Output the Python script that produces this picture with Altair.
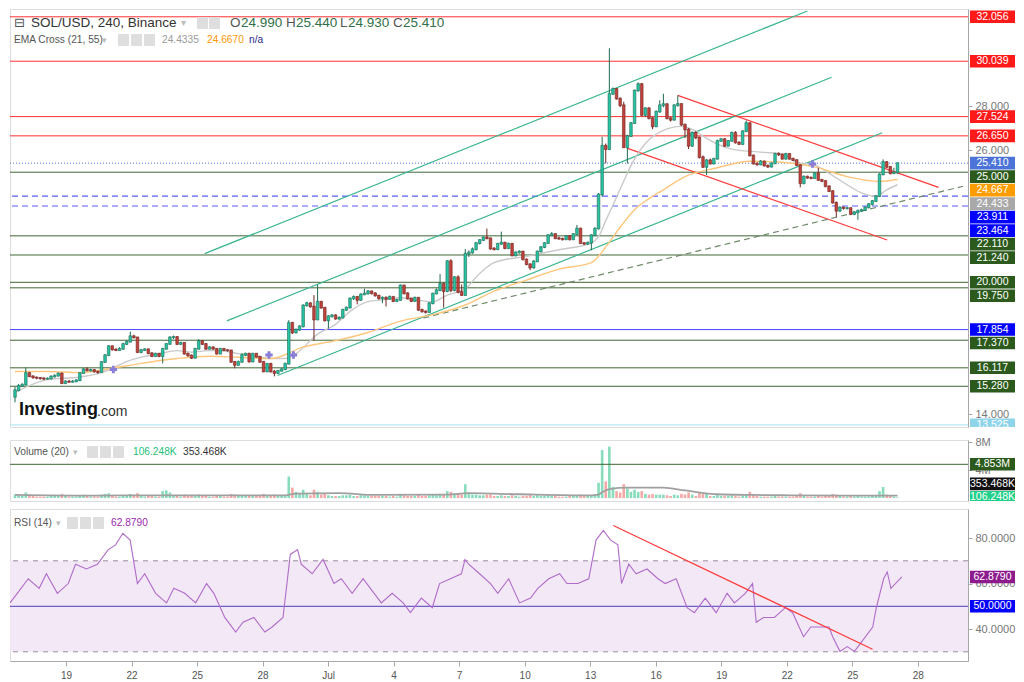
import altair as alt
import pandas as pd

# ---------------- data ----------------
opens = [14.80,15.10,15.30,15.35,15.88,15.73,15.68,15.66,15.64,15.62,
 15.63,15.72,15.76,15.86,15.42,15.50,15.48,15.50,15.55,15.88,
 16.05,16.00,16.02,15.95,15.92,16.38,16.69,17.10,16.95,16.92,
 16.98,17.20,17.30,17.55,17.50,16.83,16.92,16.96,16.78,16.65,
 16.76,16.65,16.98,17.20,17.50,17.52,17.20,17.25,16.76,16.68,
 16.57,16.98,17.33,17.20,16.98,17.05,16.98,16.76,16.98,16.92,
 16.91,16.39,16.25,16.39,16.70,16.76,16.40,16.76,16.62,16.39,
 15.95,16.30,15.95,15.88,15.98,16.05,16.30,18.16,17.72,17.85,
 18.00,18.95,19.05,18.90,18.31,19.12,18.85,18.27,18.46,18.50,
 18.35,18.40,18.75,18.85,19.27,19.34,19.20,19.45,19.49,19.59,
 19.50,19.40,19.27,19.30,19.25,19.34,19.15,19.20,19.86,19.50,
 19.27,19.15,19.30,18.75,18.68,18.65,19.05,19.49,19.64,19.93,
 19.60,20.96,19.64,20.23,19.56,19.42,21.30,21.35,21.50,21.78,
 21.92,22.04,22.00,21.53,21.50,21.75,21.80,21.55,21.75,21.22,
 21.36,21.40,21.04,20.82,20.67,20.95,21.40,21.60,21.78,22.14,
 22.19,22.00,21.98,21.95,22.10,21.95,22.19,22.44,21.78,21.75,
 21.80,22.14,22.44,23.99,26.20,26.05,28.56,28.78,28.34,28.04,
 26.13,26.64,27.23,28.71,29.00,27.60,27.90,27.45,27.08,27.75,
 28.04,28.09,27.45,27.38,28.04,28.10,27.16,26.94,26.20,26.79,
 26.57,25.68,25.24,25.54,25.39,25.61,26.42,26.50,26.20,26.42,
 26.79,26.35,26.28,26.86,27.23,25.76,25.39,25.35,25.49,25.30,
 25.25,25.40,25.83,25.80,25.61,25.83,25.61,25.55,25.32,24.50,
 24.80,24.75,24.73,24.95,24.65,24.60,24.36,24.14,23.62,23.25,
 23.40,23.37,23.37,23.10,23.18,23.25,23.28,23.40,23.55,23.69,
 23.91,24.90,25.46,25.24,24.95,24.99]
highs = [15.25,15.38,15.42,16.13,15.92,15.78,15.72,15.70,15.68,15.68,
 15.78,15.82,15.90,15.90,15.55,15.56,15.56,15.60,15.92,16.10,
 16.14,16.08,16.05,15.98,16.42,16.74,17.15,17.12,17.00,17.05,
 17.25,17.36,17.76,17.62,17.52,16.98,17.00,16.98,16.82,16.80,
 16.78,17.02,17.24,17.55,17.58,17.55,17.30,17.28,16.80,16.72,
 17.02,17.42,17.38,17.24,17.10,17.08,17.00,17.02,17.00,16.96,
 16.93,16.42,16.44,16.78,16.80,16.80,16.80,16.78,16.66,16.42,
 16.33,16.34,16.02,16.02,16.10,16.35,18.28,18.20,17.90,18.05,
 19.00,19.12,19.08,19.42,19.89,19.15,18.88,18.50,18.55,18.55,
 18.45,18.80,18.90,19.30,19.40,19.38,19.50,19.71,19.65,19.62,
 19.55,19.42,19.36,19.36,19.40,19.36,19.25,19.90,19.88,19.55,
 19.30,19.35,19.33,18.80,18.72,19.10,19.52,19.72,20.38,19.98,
 21.00,21.05,20.28,20.32,19.90,21.51,21.45,21.58,21.82,21.95,
 22.08,22.44,22.02,21.60,21.78,22.30,21.84,21.80,21.78,21.40,
 21.45,21.42,21.08,20.86,21.00,21.44,21.64,21.82,22.18,22.28,
 22.22,22.08,22.02,22.14,22.12,22.22,22.60,22.48,21.82,21.85,
 22.18,22.50,24.05,26.61,26.30,30.63,28.85,28.82,28.40,28.20,
 26.70,27.28,28.75,29.08,29.05,27.95,27.95,27.50,27.80,28.27,
 28.56,28.12,27.50,28.08,28.49,28.12,27.20,27.00,26.85,26.86,
 26.62,25.76,25.60,25.62,25.65,26.48,26.55,26.55,26.46,26.84,
 26.86,26.40,26.90,27.35,27.26,25.80,25.45,25.55,25.52,25.34,
 25.44,25.88,25.90,25.84,25.88,25.86,25.66,25.58,25.36,24.85,
 24.84,24.80,25.00,25.20,24.70,24.64,24.40,24.18,23.66,23.45,
 23.44,23.42,23.40,23.24,23.30,23.34,23.45,23.60,23.74,23.96,
 24.95,25.58,25.50,25.28,25.20,25.44]
lows = [14.55,15.05,15.25,15.33,15.70,15.62,15.60,15.58,15.56,15.58,
 15.60,15.68,15.72,15.38,15.38,15.44,15.45,15.47,15.52,15.85,
 15.96,15.95,15.90,15.85,15.90,16.35,16.65,16.90,16.88,16.90,
 16.95,17.15,17.28,17.45,16.80,16.78,16.88,16.74,16.60,16.62,
 16.60,16.32,16.95,17.18,17.42,17.15,17.16,16.72,16.62,16.52,
 16.55,16.95,17.15,16.94,16.95,16.94,16.72,16.74,16.88,16.86,
 16.35,16.10,16.22,16.36,16.65,16.36,16.38,16.58,16.35,15.92,
 15.92,15.90,15.73,15.85,15.95,16.02,16.28,17.65,17.68,17.80,
 17.95,18.90,18.85,17.35,18.28,18.80,18.22,17.90,18.40,18.30,
 18.30,18.36,18.70,18.82,19.20,19.00,19.18,19.42,19.45,19.45,
 19.35,19.22,19.05,18.90,19.22,19.10,19.10,19.18,19.45,19.22,
 19.10,19.12,18.70,18.62,18.58,18.62,19.00,19.45,19.60,18.85,
 19.55,19.55,19.60,19.50,19.38,19.40,21.15,21.30,21.45,21.72,
 21.88,21.95,21.48,21.45,21.48,21.70,21.50,21.52,21.18,21.18,
 21.30,21.00,20.78,20.55,20.62,20.92,21.36,21.55,21.75,22.10,
 21.96,21.94,21.90,21.92,21.90,21.92,22.15,21.75,21.70,21.70,
 21.45,22.10,22.40,23.90,25.40,26.00,28.50,28.30,27.95,26.10,
 25.39,26.60,27.20,28.65,27.55,27.50,27.40,26.95,27.05,27.70,
 27.95,27.40,27.30,27.35,27.98,27.10,26.55,26.05,26.15,26.50,
 25.62,25.20,24.87,25.35,25.36,25.58,26.38,26.15,26.18,26.40,
 26.30,26.24,26.25,26.82,25.72,25.35,25.30,25.32,25.26,25.20,
 25.22,25.37,25.74,25.58,25.58,25.58,25.50,25.28,24.31,24.45,
 24.70,24.68,24.70,24.60,24.55,24.32,24.10,23.58,22.96,23.20,
 23.30,23.30,23.05,23.05,22.84,23.20,23.25,23.36,23.50,23.65,
 23.88,24.86,25.20,24.90,24.92,24.93]
closes = [15.10,15.30,15.35,15.88,15.73,15.68,15.66,15.64,15.62,15.63,
 15.72,15.76,15.86,15.42,15.50,15.48,15.50,15.55,15.88,16.05,
 16.00,16.02,15.95,15.92,16.38,16.69,17.10,16.95,16.92,16.98,
 17.20,17.30,17.55,17.50,16.83,16.92,16.96,16.78,16.65,16.76,
 16.65,16.98,17.20,17.50,17.52,17.20,17.25,16.76,16.68,16.57,
 16.98,17.33,17.20,16.98,17.05,16.98,16.76,16.98,16.92,16.91,
 16.39,16.25,16.39,16.70,16.76,16.40,16.76,16.62,16.39,15.95,
 16.30,15.95,15.88,15.98,16.05,16.30,18.16,17.72,17.85,18.00,
 18.95,19.05,18.90,18.31,19.12,18.85,18.27,18.46,18.50,18.35,
 18.40,18.75,18.85,19.27,19.34,19.20,19.45,19.49,19.59,19.50,
 19.40,19.27,19.30,19.25,19.34,19.15,19.20,19.86,19.50,19.27,
 19.15,19.30,18.75,18.68,18.65,19.05,19.49,19.64,19.93,19.60,
 20.96,19.64,20.23,19.56,19.42,21.30,21.35,21.50,21.78,21.92,
 22.04,22.00,21.53,21.50,21.75,21.80,21.55,21.75,21.22,21.36,
 21.40,21.04,20.82,20.67,20.95,21.40,21.60,21.78,22.14,22.19,
 22.00,21.98,21.95,22.10,21.95,22.19,22.44,21.78,21.75,21.80,
 22.14,22.44,23.99,26.20,26.05,28.56,28.78,28.34,28.04,26.13,
 26.64,27.23,28.71,29.00,27.60,27.90,27.45,27.08,27.75,28.04,
 28.09,27.45,27.38,28.04,28.10,27.16,26.94,26.20,26.79,26.57,
 25.68,25.24,25.54,25.39,25.61,26.42,26.50,26.20,26.42,26.79,
 26.35,26.28,26.86,27.23,25.76,25.39,25.35,25.49,25.30,25.25,
 25.40,25.83,25.80,25.61,25.83,25.61,25.55,25.32,24.50,24.80,
 24.75,24.73,24.95,24.65,24.60,24.36,24.14,23.62,23.25,23.40,
 23.37,23.37,23.10,23.18,23.25,23.28,23.40,23.55,23.69,23.91,
 24.90,25.46,25.24,24.95,24.99,25.41]
volumes = [0.5,0.4,0.3,0.8,0.5,0.3,0.2,0.2,0.2,0.2,
 0.3,0.3,0.3,0.6,0.3,0.2,0.2,0.2,0.4,0.5,
 0.3,0.2,0.2,0.2,0.5,0.6,0.7,0.3,0.2,0.2,
 0.4,0.3,0.6,0.3,0.7,0.3,0.2,0.3,0.3,0.2,
 0.2,1.0,1.1,0.8,0.4,0.4,0.2,0.5,0.3,0.3,
 0.4,0.5,0.3,0.3,0.2,0.2,0.3,0.3,0.2,0.2,
 0.6,0.5,0.3,0.4,0.3,0.4,0.3,0.3,0.4,0.6,
 0.3,0.4,0.5,0.3,0.3,0.4,3.1,1.5,0.9,0.6,
 1.2,0.6,0.4,1.2,0.9,0.5,0.6,0.4,0.3,0.3,
 0.3,0.4,0.4,0.5,0.3,0.3,0.4,0.4,0.3,0.3,
 0.3,0.3,0.3,0.3,0.2,0.3,0.2,0.6,0.4,0.3,
 0.3,0.3,0.6,0.3,0.3,0.4,0.5,0.4,0.6,0.5,
 1.0,0.9,0.6,0.6,0.5,2.0,0.7,0.5,0.5,0.4,
 0.4,0.5,0.5,0.3,0.3,0.4,0.3,0.3,0.4,0.3,
 0.2,0.3,0.3,0.4,0.3,0.4,0.3,0.3,0.4,0.3,
 0.3,0.2,0.2,0.2,0.3,0.3,0.4,0.5,0.3,0.3,
 0.4,0.5,2.2,6.9,2.4,7.4,1.6,1.0,0.8,2.0,
 1.4,0.9,1.2,0.9,1.0,0.6,0.5,0.6,0.5,0.5,
 0.5,0.4,0.3,0.5,0.4,0.6,0.5,0.8,0.5,0.3,
 0.8,0.6,0.6,0.3,0.3,0.5,0.3,0.3,0.3,0.4,
 0.3,0.2,0.4,0.5,0.9,0.5,0.3,0.2,0.2,0.2,
 0.2,0.3,0.2,0.2,0.2,0.2,0.2,0.3,0.7,0.3,
 0.2,0.2,0.2,0.3,0.2,0.3,0.3,0.6,0.5,0.3,
 0.2,0.2,0.3,0.2,0.3,0.2,0.2,0.2,0.3,0.3,
 1.0,1.6,0.5,0.4,0.2,0.1]

ema21_k = [0,9,18,24,27,31,35,40,45,49,54,58,62,67,71,75,78,84,89,93,98,102,107,111,116,120,125,129,133,142,151,160,162,164,166,169,171,175,180,185,189,191,199,208,213,217,222,226,231,235,239,242,245]
ema21_v = [15.0,15.58,15.7,15.9,16.1,16.4,16.6,16.76,16.9,16.83,16.9,16.88,16.76,16.65,16.54,16.54,16.76,17.65,18.09,18.68,19.12,19.2,19.3,19.2,19.12,19.42,19.71,20.4,20.89,21.18,21.48,21.78,22.07,22.8,23.5,24.6,25.3,26.3,26.9,27.08,26.86,26.64,26.05,25.9,25.83,25.46,25.32,24.95,24.43,24.06,23.91,24.2,24.43]
ema55_k = [0,9,18,27,35,45,54,62,71,80,89,98,107,116,125,133,142,151,160,164,168,172,176,180,186,195,204,213,222,231,240,245]
ema55_v = [15.95,15.95,15.9,16.1,16.32,16.54,16.64,16.6,16.54,17.06,17.35,17.72,18.24,18.53,18.97,19.6,20.1,20.6,20.89,21.6,22.5,23.3,23.8,24.2,24.8,25.2,25.5,25.45,25.24,24.8,24.58,24.67]
cross_k = [27.3,70.5,77.3,221.4]
cross_v = [16.04,16.70,16.70,25.37]

volma_k = [0,20,40,60,75,78,90,100,120,126,140,160,162,163,165,170,180,186,195,205,215,230,245]
volma_v = [0.45,0.35,0.4,0.4,0.4,0.65,0.7,0.45,0.5,0.7,0.55,0.4,0.5,0.85,1.3,1.5,1.5,1.1,0.55,0.45,0.4,0.35,0.35]

rsi_k = [0,2,5,8,10,13,16,18,21,24,27,29,31,33,35,37,40,43,45,48,51,54,56,59,62,64,67,70,72,75,
 77,79,80,83,86,89,91,94,97,99,102,105,108,110,113,116,118,121,124,125,126,129,132,134,137,140,143,145,148,151,
 153,156,159,161,163,165,167,168,170,172,175,178,180,183,186,188,191,194,197,199,202,204,205,207,210,213,215,218,220,222,
 225,226,228,230,232,234,237,238,240,241,242,245]
rsi_v = [51.5,55.7,62.1,57.9,64.3,55.7,60.0,68.5,66.4,68.5,74.9,77.0,82.1,79.1,60.0,64.3,55.7,51.5,57.9,55.7,
 51.5,60.0,55.7,45.1,38.7,43.0,45.1,38.7,40.9,45.1,72.8,74.9,68.5,64.3,70.6,60.0,62.1,55.7,62.1,57.9,
 51.5,55.7,51.5,47.2,53.6,49.4,60.0,62.1,64.3,70.6,68.5,64.3,60.0,55.7,62.1,51.5,53.6,57.9,62.1,64.3,
 60.0,60.0,62.1,79.1,83.4,79.1,77.0,60.0,68.5,64.3,66.4,62.1,60.0,62.1,49.4,47.2,53.6,47.2,55.7,51.5,
 55.7,60.0,43.0,45.1,45.1,49.4,47.2,36.6,40.9,40.9,40.9,36.6,30.2,32.3,30.2,34.5,40.9,49.4,62.1,65.1,
 57.9,62.9]

# horizontal levels
level_p = [32.056,30.039,27.524,26.650,25.410,25.000,23.911,23.464,22.110,21.240,20.000,19.750,17.854,17.370,16.117,15.280,13.525]
level_kind = ["red","red","red","red","last","green","bdash","bdash","green","green","green","green","blue","green","green","green","cyan"]
ema_lbl_p = [24.667, 24.433]
ema_lbl_kind = ["ema55", "ema21"]

# trend lines (day-of-June coordinate, price)
teal_t1 = [25.21, 26.24, 28.58]
teal_p1 = [21.30, 18.25, 15.77]
teal_t2 = [53.10, 54.22, 56.56]
teal_p2 = [32.32, 29.31, 26.79]
red_t1 = [47.10, 44.78]
red_p1 = [28.49, 26.08]
red_t2 = [59.17, 56.79]
red_p2 = [24.31, 21.92]
dash_t = [35.33, 60.30]
dash_p = [18.38, 24.36]
rsi_tl_t = [44.06, 55.93]
rsi_tl_v = [85.5, 31.1]

tick_days = [19, 22, 25, 28, 31, 34, 37, 40, 43, 46, 49, 52, 55, 58]
tick_labels = ["19", "22", "25", "28", "Jul", "4", "7", "10", "13", "16", "19", "22", "25", "28"]

vol_lbl = [4.853, 0.353468, 0.106248]
vol_lbl_kind = ["vline", "vma", "vlast"]
rsi_lbl = [62.879, 50.0]
rsi_lbl_kind = ["rsi", "mid"]

for arr in (opens, highs, lows, closes, volumes):
    assert len(arr) == 246, len(arr)
assert len(ema21_k) == len(ema21_v) and len(ema55_k) == len(ema55_v)
assert len(rsi_k) == len(rsi_v) and len(volma_k) == len(volma_v)

# ---------------- layout ----------------
W = 958
BOXW = 47
HP, HV, HR = 418, 61, 152
XDOM = [16.436, 60.30]
PDOM = [13.43, 32.41]
VDOM = [-0.42, 8.35]
RDOM = [25.96, 92.77]
FONT = "Liberation Sans"

N = len(closes)
T_LAST = 57.27
def tk(k):
    return T_LAST - (N - 1 - k) / 6.0

df = pd.DataFrame({"t": [tk(k) for k in range(N)], "o": opens, "h": highs,
                   "l": lows, "c": closes, "v": volumes})
df["dir"] = ["up" if c >= o else "dn" for o, c in zip(df.o, df.c)]
df["bt"] = df[["o", "c"]].max(axis=1) + 0.02
df["bb"] = df[["o", "c"]].min(axis=1) - 0.02

xs = alt.Scale(domain=XDOM, nice=False, zero=False)
XN = lambda f: alt.X(f, scale=xs, axis=None)
ONE = pd.DataFrame({"z": [0]})

def ax(values, expr):
    return alt.Axis(orient="right", values=values, labelExpr=expr, grid=False, title=None,
                    domainColor="#a8a8a8", tickColor="#a8a8a8", tickSize=4,
                    labelColor="#777777", labelFontSize=11, labelFont=FONT, labelPadding=3)

AXP = ax([14, 26, 28], "format(datum.value, '.3f')")
AXV = ax([4, 8], "datum.value + 'M'")
AXR = ax([40, 60, 80], "format(datum.value, '.4f')")
yP = alt.Scale(domain=PDOM, nice=False, zero=False)
yV = alt.Scale(domain=VDOM, nice=False, zero=False)
yR = alt.Scale(domain=RDOM, nice=False, zero=False)
YP = lambda f: alt.Y(f, scale=yP, axis=AXP)
YV = lambda f: alt.Y(f, scale=yV, axis=AXV)
YR = lambda f: alt.Y(f, scale=yR, axis=AXR)

def txt(s, x, y, color="#333333", size=11, weight="normal", font=FONT):
    return alt.Chart(ONE).mark_text(text=s, align="left", baseline="middle", color=color,
                                    fontSize=size, fontWeight=weight, font=font).encode(
        x=alt.value(x), y=alt.value(y))

def icon(x, y):
    return alt.Chart(ONE).mark_rect(color="#dedede", cornerRadius=1).encode(
        x=alt.value(x), x2=alt.value(x + 11), y=alt.value(y - 6), y2=alt.value(y + 6))

BOX_COL = {"red": "#ff1a1a", "green": "#2b5a1c", "blue": "#0000ff", "bdash": "#0000ff",
           "last": "#4c74d8", "cyan": "#8fd5ea", "ema55": "#ff9d00", "ema21": "#a9a9a9",
           "vline": "#2b5a1c", "vma": "#111111", "vlast": "#22d08a", "rsi": "#8e1b8e",
           "mid": "#0000ff"}
LINE_COL = {"red": "#ff3030", "green": "#3f6634", "blue": "#4646ff", "cyan": "#a8e2f0"}


def label_frame(vals, kinds, dom, H, fmt, bottom_up=False, gap=13.5, half=6.3):
    span = dom[1] - dom[0]
    px = [(dom[1] - v) / span * H for v in vals]
    out = px[:]
    if bottom_up:
        order = sorted(range(len(vals)), key=lambda i: -px[i])
        prev = None
        for i in order:
            y = min(out[i], H - 3)
            if prev is not None and y > prev - gap:
                y = prev - gap
            out[i] = y
            prev = y
    else:
        order = sorted(range(len(vals)), key=lambda i: px[i])
        prev = None
        for i in order:
            y = out[i]
            if prev is not None and y < prev + gap:
                y = prev + gap
            out[i] = y
            prev = y
    back = lambda y: dom[1] - y / H * span
    rows = []
    for i, v in enumerate(vals):
        rows.append({"c": back(out[i]), "top": back(max(out[i] - half, 0)),
                     "bot": back(min(out[i] + half, H)), "kind": kinds[i],
                     "txt": fmt(v) if out[i] + 2 < H else ""})
    return pd.DataFrame(rows)


def label_layers(frame, Y):
    out = []
    for kind in frame["kind"].unique():
        sub = frame[frame["kind"] == kind]
        out.append(alt.Chart(sub).mark_rect(color=BOX_COL[kind]).encode(
            x=alt.value(W + 2), x2=alt.value(W + BOXW), y=Y("top:Q"), y2="bot:Q"))
    out.append(alt.Chart(frame).mark_text(align="center", baseline="middle", color="white",
                                          fontSize=10.5, font=FONT).encode(
        x=alt.value(W + 2 + (BOXW - 2) / 2), y=Y("c:Q"), text="txt:N"))
    return out

# ---------------- price pane ----------------
lv = pd.DataFrame({"p": level_p, "kind": level_kind})
lv_layers = []
for kind, col in LINE_COL.items():
    lv_layers.append(alt.Chart(lv).transform_filter("datum.kind == '%s'" % kind).mark_rule(
        strokeWidth=1, color=col).encode(y=YP("p:Q")))
lv_layers.append(alt.Chart(lv).transform_filter("datum.kind == 'bdash'").mark_rule(
    strokeWidth=1.2, strokeDash=[6, 4], color="#5c5cff").encode(y=YP("p:Q")))
lv_layers.append(alt.Chart(lv).transform_filter("datum.kind == 'last'").mark_rule(
    strokeWidth=1, strokeDash=[1, 2], color="#4c74d8").encode(y=YP("p:Q")))

def seg_chart(t1, p1, t2, p2, color, dash=None):
    d = pd.DataFrame({"t1": t1, "p1": p1, "t2": t2, "p2": p2})
    kw = {"strokeDash": dash} if dash else {}
    return alt.Chart(d).mark_rule(strokeWidth=1.2, clip=True, color=color, **kw).encode(
        x=XN("t1:Q"), x2="t2:Q", y=YP("p1:Q"), y2="p2:Q")

teal_layer = seg_chart(teal_t1, teal_p1, teal_t2, teal_p2, "#3ab58f")
red_layer = seg_chart(red_t1, red_p1, red_t2, red_p2, "#ff3b3b")
dash_layer = seg_chart([dash_t[0]], [dash_p[0]], [dash_t[1]], [dash_p[1]], "#6f8a6a", [6, 4])

e21 = pd.DataFrame({"t": [tk(k) for k in ema21_k], "v": ema21_v})
e55 = pd.DataFrame({"t": [tk(k) for k in ema55_k], "v": ema55_v})
e21_layer = alt.Chart(e21).mark_line(color="#c9c9c9", strokeWidth=1.4, interpolate="monotone",
                                     clip=True).encode(x=XN("t:Q"), y=YP("v:Q"))
e55_layer = alt.Chart(e55).mark_line(color="#ffc67c", strokeWidth=1.4, interpolate="monotone",
                                     clip=True).encode(x=XN("t:Q"), y=YP("v:Q"))
cr = pd.DataFrame({"t": [tk(k) for k in cross_k], "v": cross_v})
cross_layer = alt.Chart(cr).mark_point(shape="cross", filled=True, size=55, color="#8a7fd8",
                                       opacity=1).encode(x=XN("t:Q"), y=YP("v:Q"))

candle_layers = []
for d, wick_c, fill_c in (("up", "#1f6a52", "#27c4a6"), ("dn", "#6e2622", "#c2423c")):
    base = alt.Chart(df).transform_filter("datum.dir == '%s'" % d)
    candle_layers.append(base.mark_rule(strokeWidth=1, color=wick_c, clip=True).encode(
        x=XN("t:Q"), y=YP("l:Q"), y2="h:Q"))
    candle_layers.append(base.mark_bar(size=2.6, strokeWidth=0.6, color=fill_c, stroke=wick_c,
                                       clip=True).encode(x=XN("t:Q"), y=YP("bt:Q"), y2="bb:Q"))

plab = label_frame(level_p + ema_lbl_p, level_kind + ema_lbl_kind, PDOM, HP,
                   lambda v: "%.3f" % v)

price_hdr = [
    txt("\u229f", 4, 14, "#555555", 13, font="DejaVu Sans"),
    txt("SOL/USD, 240, Binance", 21, 14, "#333333", 13.5),
    txt("\u25be", 171, 14, "#bbbbbb", 10, font="DejaVu Sans"),
    icon(187, 14), icon(199, 14),
    txt("O", 220, 14, "#555555", 13.5), txt("24.990", 231, 14, "#2f7048", 13.5),
    txt("H", 276, 14, "#555555", 13.5), txt("25.440", 286, 14, "#2f7048", 13.5),
    txt("L", 330, 14, "#555555", 13.5), txt("24.930", 338, 14, "#2f7048", 13.5),
    txt("C", 383, 14, "#555555", 13.5), txt("25.410", 393, 14, "#2f7048", 13.5),
    txt("EMA Cross (21, 55)", 4, 31, "#555555", 10.2),
    txt("\u25be", 92, 31, "#bbbbbb", 9, font="DejaVu Sans"),
    icon(108, 31), icon(121, 31), icon(134, 31),
    txt("24.4335", 152, 31, "#9a9a9a", 10.2),
    txt("24.6670", 197, 31, "#ff9800", 10.2),
    txt("n/a", 239, 31, "#2a2a8a", 10.2),
    txt("Investing", 9, HP - 17, "#111111", 18, "bold"),
    txt(".com", 87, HP - 15, "#333333", 14),
]

price = alt.layer(
    *lv_layers, teal_layer, red_layer, dash_layer, e21_layer, e55_layer,
    *candle_layers, cross_layer, *label_layers(plab, YP), *price_hdr
).properties(width=W, height=HP)

# ---------------- volume pane ----------------
vol_layers = []
for d, col in (("up", "#86dcbb"), ("dn", "#f5a8a6")):
    vol_layers.append(alt.Chart(df).transform_filter("datum.dir == '%s'" % d).mark_bar(
        size=2.6, color=col, clip=True).encode(x=XN("t:Q"), y=YV("v:Q"), y2=alt.datum(0)))
vma = pd.DataFrame({"t": [tk(k) for k in volma_k], "v": volma_v})
vma_layer = alt.Chart(vma).mark_line(color="#a0a0a0", strokeWidth=1.8, interpolate="monotone",
                                     clip=True).encode(x=XN("t:Q"), y=YV("v:Q"))
vline = alt.Chart(pd.DataFrame({"v": [vol_lbl[0]]})).mark_rule(color="#3f6634", strokeWidth=1).encode(
    y=YV("v:Q"))
vlab = label_frame(vol_lbl, vol_lbl_kind, VDOM, HV,
                   lambda v: ("%.3fM" % v) if v >= 1 else ("%.3fK" % (v * 1000)), bottom_up=True)
vol_hdr = [
    txt("Volume (20)", 4, 12, "#555555", 10.2),
    txt("\u25be", 63, 12, "#bbbbbb", 9, font="DejaVu Sans"),
    icon(77, 12), icon(90, 12), icon(103, 12),
    txt("106.248K", 123, 12, "#1fbf7a", 10.2),
    txt("353.468K", 173, 12, "#333333", 10.2),
]
volume = alt.layer(*vol_layers, vma_layer, vline, *label_layers(vlab, YV), *vol_hdr).properties(
    width=W, height=HV)

# ---------------- RSI pane ----------------
band = alt.Chart(pd.DataFrame({"a": [70.0], "b": [30.0]})).mark_rect(color="#f3e8f6").encode(
    x=alt.value(0), x2=alt.value(W), y=YR("a:Q"), y2="b:Q")
bands = alt.Chart(pd.DataFrame({"v": [70.0, 30.0]})).mark_rule(
    color="#9a8a9e", strokeDash=[5, 5], strokeWidth=1).encode(y=YR("v:Q"))
mid = alt.Chart(pd.DataFrame({"v": [50.0]})).mark_rule(color="#4b3fbf", strokeWidth=1).encode(
    y=YR("v:Q"))
rs = pd.DataFrame({"t": [tk(k) for k in rsi_k], "v": rsi_v})
tick_expr = " : ".join("datum.value == %d ? '%s'" % (d, s) for d, s in zip(tick_days, tick_labels)) + " : ''"
XAX = alt.Axis(values=tick_days, labelExpr=tick_expr, grid=False, title=None, domainColor="#a8a8a8",
               tickColor="#a8a8a8", tickSize=5, labelColor="#555555", labelFontSize=10,
               labelFont=FONT, labelPadding=4)
rsi_line = alt.Chart(rs).mark_line(color="#b06cc9", strokeWidth=1.1, clip=True).encode(
    x=alt.X("t:Q", scale=xs, axis=XAX), y=YR("v:Q"))
rtl = pd.DataFrame({"t1": [rsi_tl_t[0]], "t2": [rsi_tl_t[1]], "p1": [rsi_tl_v[0]], "p2": [rsi_tl_v[1]]})
rsi_tl = alt.Chart(rtl).mark_rule(color="#ff3b3b", strokeWidth=1.2).encode(
    x=alt.X("t1:Q", scale=xs, axis=XAX), x2="t2:Q", y=YR("p1:Q"), y2="p2:Q")
rlab = label_frame(rsi_lbl, rsi_lbl_kind, RDOM, HR, lambda v: "%.4f" % v)
rsi_hdr = [
    txt("RSI (14)", 4, 14, "#555555", 10.2),
    txt("\u25be", 46, 14, "#bbbbbb", 9, font="DejaVu Sans"),
    icon(57, 14), icon(70, 14), icon(83, 14),
    txt("62.8790", 101, 14, "#9c27b0", 10.2),
]
rsi = alt.layer(band, bands, mid, rsi_line, rsi_tl, *label_layers(rlab, YR), *rsi_hdr).properties(
    width=W, height=HR)

chart = alt.vconcat(price, volume, rsi, spacing=4).properties(
    padding={"left": 0, "top": 0, "right": 0, "bottom": 0}
).configure_view(stroke="#cfcfcf").configure(background="white")

chart.save("out.html", embed_options={"renderer": "svg", "actions": False})
